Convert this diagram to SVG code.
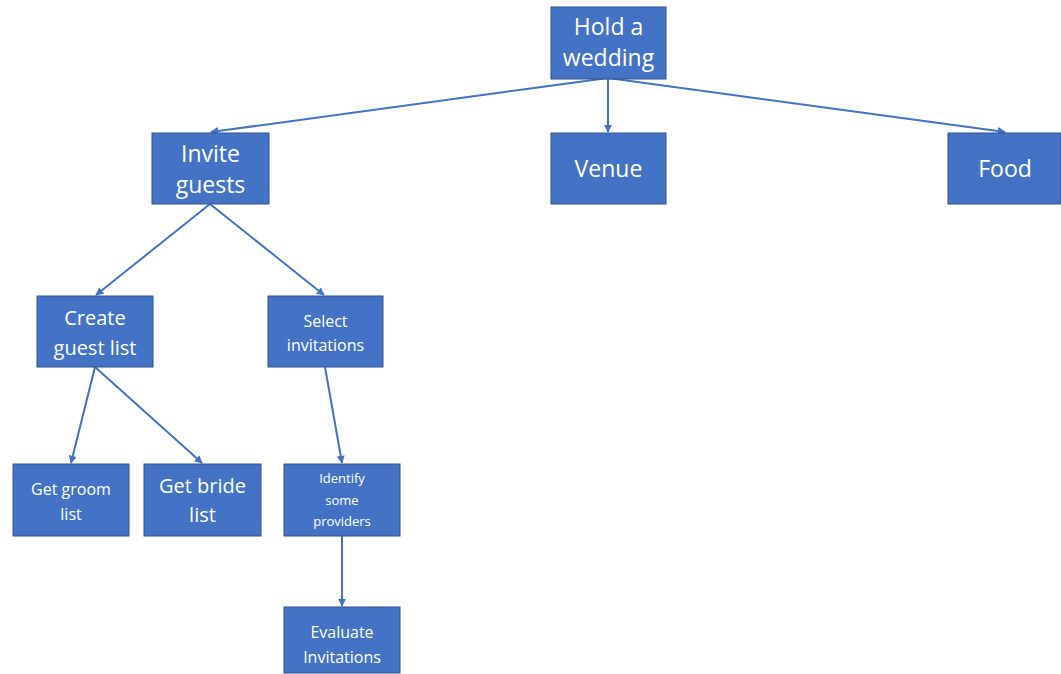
<svg xmlns="http://www.w3.org/2000/svg" width="1061" height="674" viewBox="0 0 1061 674">
  <defs>
    <marker id="arrow" viewBox="0 0 10 10" refX="9" refY="5" markerWidth="8" markerHeight="8" orient="auto-start-reverse" markerUnits="userSpaceOnUse">
      <path d="M0,0 L10,5 L0,10 z" fill="#4472C4"/>
    </marker>
    <style>
      .box { fill: #4472C4; stroke: #2F528F; stroke-width: 1; }
      .lbl { fill: #FFFFFF; font-family: "Open Sans", "Liberation Sans", sans-serif; text-anchor: middle; }
      .edge { stroke: #4472C4; stroke-width: 2; fill: none; marker-end: url(#arrow); }
    </style>
  </defs>
  <rect width="1061" height="674" fill="#FFFFFF"/>

  <g id="connectors">
    <line class="edge" x1="608" y1="78" x2="211" y2="132"/>
    <line class="edge" x1="608" y1="78" x2="608" y2="132"/>
    <line class="edge" x1="608" y1="78" x2="1005" y2="132"/>
    <line class="edge" x1="210" y1="204" x2="96" y2="295"/>
    <line class="edge" x1="210" y1="204" x2="324" y2="295"/>
    <line class="edge" x1="95" y1="367" x2="71" y2="463"/>
    <line class="edge" x1="95" y1="367" x2="202" y2="463"/>
    <line class="edge" x1="325" y1="367" x2="342" y2="463"/>
    <line class="edge" x1="342" y1="536" x2="342" y2="606"/>
  </g>

  <g id="hold-wedding">
    <rect class="box" x="551" y="7" width="115" height="72"/>
    <text class="lbl" font-size="23" x="608.5" y="35">Hold a</text>
    <text class="lbl" font-size="23" x="608.5" y="66">wedding</text>
  </g>
  <g id="invite-guests">
    <rect class="box" x="152" y="133" width="117" height="71"/>
    <text class="lbl" font-size="23" x="210.5" y="162">Invite</text>
    <text class="lbl" font-size="23" x="210.5" y="193">guests</text>
  </g>
  <g id="venue">
    <rect class="box" x="551" y="133" width="115" height="71"/>
    <text class="lbl" font-size="23" x="608.5" y="177">Venue</text>
  </g>
  <g id="food">
    <rect class="box" x="948" y="133" width="113" height="71"/>
    <text class="lbl" font-size="23" x="1005" y="177">Food</text>
  </g>
  <g id="create-guest-list">
    <rect class="box" x="37" y="296" width="116" height="71"/>
    <text class="lbl" font-size="20" x="95" y="325">Create</text>
    <text class="lbl" font-size="20" x="95" y="355">guest list</text>
  </g>
  <g id="select-invitations">
    <rect class="box" x="268" y="296" width="115" height="71"/>
    <text class="lbl" font-size="16" x="325.5" y="327">Select</text>
    <text class="lbl" font-size="16" x="325.5" y="351">invitations</text>
  </g>
  <g id="get-groom-list">
    <rect class="box" x="13" y="464" width="116" height="72"/>
    <text class="lbl" font-size="16" x="71" y="495">Get groom</text>
    <text class="lbl" font-size="16" x="71" y="520">list</text>
  </g>
  <g id="get-bride-list">
    <rect class="box" x="144" y="464" width="117" height="72"/>
    <text class="lbl" font-size="20" x="202.5" y="493">Get bride</text>
    <text class="lbl" font-size="20" x="202.5" y="522">list</text>
  </g>
  <g id="identify-providers">
    <rect class="box" x="284" y="464" width="116" height="72"/>
    <text class="lbl" font-size="13" x="342" y="483">Identify</text>
    <text class="lbl" font-size="13" x="342" y="505">some</text>
    <text class="lbl" font-size="13" x="342" y="526">providers</text>
  </g>
  <g id="evaluate-invitations">
    <rect class="box" x="284" y="607" width="116" height="66"/>
    <text class="lbl" font-size="16" x="342" y="638">Evaluate</text>
    <text class="lbl" font-size="16" x="342" y="663">Invitations</text>
  </g>
</svg>
